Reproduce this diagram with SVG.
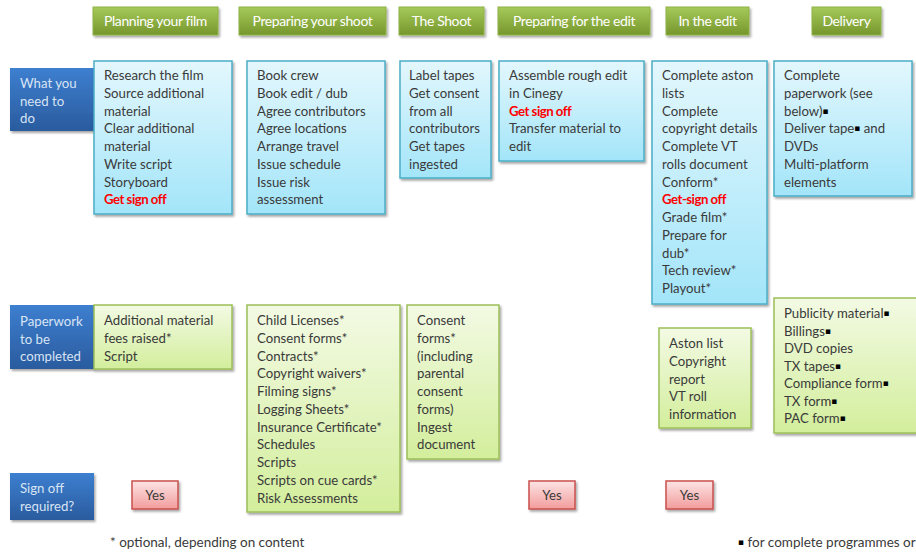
<svg xmlns="http://www.w3.org/2000/svg" width="916" height="552" viewBox="0 0 916 552">
  <defs>
    <linearGradient id="gHead" x1="0" y1="0" x2="0" y2="1">
      <stop offset="0" stop-color="#a6ca5a"/>
      <stop offset="1" stop-color="#76962c"/>
    </linearGradient>
    <linearGradient id="gTask" x1="0" y1="0" x2="0" y2="1">
      <stop offset="0" stop-color="#e3f7fd"/>
      <stop offset="1" stop-color="#a3e5f9"/>
    </linearGradient>
    <linearGradient id="gPaper" x1="0" y1="0" x2="0" y2="1">
      <stop offset="0" stop-color="#f3fae4"/>
      <stop offset="1" stop-color="#d3ee9c"/>
    </linearGradient>
    <linearGradient id="gYes" x1="0" y1="0" x2="0" y2="1">
      <stop offset="0" stop-color="#fce4e4"/>
      <stop offset="1" stop-color="#f29c9b"/>
    </linearGradient>
    <linearGradient id="gRow" x1="0" y1="0" x2="0" y2="1">
      <stop offset="0" stop-color="#3d7fd0"/>
      <stop offset="1" stop-color="#2a5b9e"/>
    </linearGradient>
    <filter id="shadow" x="-10%" y="-10%" width="130%" height="130%">
      <feDropShadow dx="1.5" dy="2" stdDeviation="1.2" flood-color="#000" flood-opacity="0.35"/>
    </filter>
  </defs>
  <style>
    text { font-family: Lato, "Open Sans", "Liberation Sans", sans-serif; }
    .head rect { fill: url(#gHead); stroke: #8fb247; stroke-width: 1; filter: url(#shadow); }
    .head text { fill: #ffffff; font-size: 14px; letter-spacing: -0.4px; text-anchor: middle; }
    .task rect { fill: url(#gTask); stroke: #4badc6; stroke-width: 1.5; filter: url(#shadow); }
    .paper rect { fill: url(#gPaper); stroke: #9cbf58; stroke-width: 1.5; filter: url(#shadow); }
    .yes rect { fill: url(#gYes); stroke: #c9504e; stroke-width: 1.5; filter: url(#shadow); }
    .yes text { fill: #3a3a3a; font-size: 13.2px; text-anchor: middle; }
    .row rect { fill: url(#gRow); filter: url(#shadow); }
    .row text { fill: #d8e4f4; font-size: 13.2px; }
    .body { fill: #3a3a3a; font-size: 13.2px; }
    .red { fill: #ff0000; font-weight: bold; letter-spacing: -0.5px; }
    .sq { fill: #000000; font-family: "DejaVu Sans", sans-serif; font-size: 9px; }
    .note { fill: #3a3a3a; font-size: 13.5px; }
  </style>

  <!-- stage headers -->
  <g id="head-planning" class="head"><rect x="93" y="7" width="125" height="28"/><text x="155.5" y="26">Planning your film</text></g>
  <g id="head-preparing-shoot" class="head"><rect x="239" y="7" width="147" height="28"/><text x="312.5" y="26">Preparing your shoot</text></g>
  <g id="head-shoot" class="head"><rect x="399" y="7" width="85" height="28"/><text x="441.5" y="26">The Shoot</text></g>
  <g id="head-preparing-edit" class="head"><rect x="498" y="7" width="152" height="28"/><text x="574" y="26">Preparing for the edit</text></g>
  <g id="head-edit" class="head"><rect x="666" y="7" width="83" height="28"/><text x="707.5" y="26">In the edit</text></g>
  <g id="head-delivery" class="head"><rect x="812" y="7" width="69" height="28"/><text x="846.5" y="26">Delivery</text></g>

  <!-- row labels -->
  <g id="row-todo" class="row">
    <rect x="10" y="68" width="84" height="63"/>
    <text x="20" y="88">What you</text><text x="20" y="105.5">need to</text><text x="20" y="123">do</text>
  </g>
  <g id="row-paperwork" class="row">
    <rect x="10" y="305" width="84" height="64"/>
    <text x="20" y="326">Paperwork</text><text x="20" y="343.5">to be</text><text x="20" y="361">completed</text>
  </g>
  <g id="row-signoff" class="row">
    <rect x="10" y="473" width="84" height="47"/>
    <text x="20" y="493">Sign off</text><text x="20" y="511">required?</text>
  </g>

  <!-- what you need to do -->
  <g id="todo-planning" class="task">
    <rect x="94" y="61" width="138" height="153"/>
    <text class="body" x="104" y="80">
      <tspan x="104">Research the film</tspan>
      <tspan x="104" dy="17.75">Source additional</tspan>
      <tspan x="104" dy="17.75">material</tspan>
      <tspan x="104" dy="17.75">Clear additional</tspan>
      <tspan x="104" dy="17.75">material</tspan>
      <tspan x="104" dy="17.75">Write script</tspan>
      <tspan x="104" dy="17.75">Storyboard</tspan>
      <tspan x="104" dy="17.75" class="red">Get sign off</tspan>
    </text>
  </g>
  <g id="todo-preparing-shoot" class="task">
    <rect x="247" y="61" width="138" height="153"/>
    <text class="body" x="257" y="80">
      <tspan x="257">Book crew</tspan>
      <tspan x="257" dy="17.75">Book edit / dub</tspan>
      <tspan x="257" dy="17.75">Agree contributors</tspan>
      <tspan x="257" dy="17.75">Agree locations</tspan>
      <tspan x="257" dy="17.75">Arrange travel</tspan>
      <tspan x="257" dy="17.75">Issue schedule</tspan>
      <tspan x="257" dy="17.75">Issue risk</tspan>
      <tspan x="257" dy="17.75">assessment</tspan>
    </text>
  </g>
  <g id="todo-shoot" class="task">
    <rect x="400" y="61" width="91" height="117"/>
    <text class="body" x="409" y="80">
      <tspan x="409">Label tapes</tspan>
      <tspan x="409" dy="17.75">Get consent</tspan>
      <tspan x="409" dy="17.75">from all</tspan>
      <tspan x="409" dy="17.75">contributors</tspan>
      <tspan x="409" dy="17.75">Get tapes</tspan>
      <tspan x="409" dy="17.75">ingested</tspan>
    </text>
  </g>
  <g id="todo-preparing-edit" class="task">
    <rect x="499" y="61" width="145" height="100"/>
    <text class="body" x="509" y="80">
      <tspan x="509">Assemble rough edit</tspan>
      <tspan x="509" dy="17.75">in Cinegy</tspan>
      <tspan x="509" dy="17.75" class="red">Get sign off</tspan>
      <tspan x="509" dy="17.75">Transfer material to</tspan>
      <tspan x="509" dy="17.75">edit</tspan>
    </text>
  </g>
  <g id="todo-edit" class="task">
    <rect x="652" y="61" width="115" height="243"/>
    <text class="body" x="662" y="80">
      <tspan x="662">Complete aston</tspan>
      <tspan x="662" dy="17.75">lists</tspan>
      <tspan x="662" dy="17.75">Complete</tspan>
      <tspan x="662" dy="17.75">copyright details</tspan>
      <tspan x="662" dy="17.75">Complete VT</tspan>
      <tspan x="662" dy="17.75">rolls document</tspan>
      <tspan x="662" dy="17.75">Conform*</tspan>
      <tspan x="662" dy="17.75" class="red">Get-sign off</tspan>
      <tspan x="662" dy="17.75">Grade film*</tspan>
      <tspan x="662" dy="17.75">Prepare for</tspan>
      <tspan x="662" dy="17.75">dub*</tspan>
      <tspan x="662" dy="17.75">Tech review*</tspan>
      <tspan x="662" dy="17.75">Playout*</tspan>
    </text>
  </g>
  <g id="todo-delivery" class="task">
    <rect x="774" y="61" width="138" height="135"/>
    <text class="body" x="784" y="80">
      <tspan x="784">Complete</tspan>
      <tspan x="784" dy="17.75">paperwork (see</tspan>
      <tspan x="784" dy="17.75">below)<tspan class="sq" dy="-2">▪</tspan></tspan>
      <tspan x="784" dy="19.75">Deliver tape<tspan class="sq" dy="-2">▪</tspan><tspan dy="2"> and</tspan></tspan>
      <tspan x="784" dy="17.75">DVDs</tspan>
      <tspan x="784" dy="17.75">Multi-platform</tspan>
      <tspan x="784" dy="17.75">elements</tspan>
    </text>
  </g>

  <!-- paperwork to be completed -->
  <g id="paper-planning" class="paper">
    <rect x="94" y="305" width="138" height="64"/>
    <text class="body" x="104" y="325">
      <tspan x="104">Additional material</tspan>
      <tspan x="104" dy="17.75">fees raised*</tspan>
      <tspan x="104" dy="17.75">Script</tspan>
    </text>
  </g>
  <g id="paper-preparing-shoot" class="paper">
    <rect x="247" y="305" width="153" height="207"/>
    <text class="body" x="257" y="325">
      <tspan x="257">Child Licenses*</tspan>
      <tspan x="257" dy="17.75">Consent forms*</tspan>
      <tspan x="257" dy="17.75">Contracts*</tspan>
      <tspan x="257" dy="17.75">Copyright waivers*</tspan>
      <tspan x="257" dy="17.75">Filming signs*</tspan>
      <tspan x="257" dy="17.75">Logging Sheets*</tspan>
      <tspan x="257" dy="17.75">Insurance Certificate*</tspan>
      <tspan x="257" dy="17.75">Schedules</tspan>
      <tspan x="257" dy="17.75">Scripts</tspan>
      <tspan x="257" dy="17.75">Scripts on cue cards*</tspan>
      <tspan x="257" dy="17.75">Risk Assessments</tspan>
    </text>
  </g>
  <g id="paper-shoot" class="paper">
    <rect x="407" y="305" width="92" height="154"/>
    <text class="body" x="417" y="325">
      <tspan x="417">Consent</tspan>
      <tspan x="417" dy="17.75">forms*</tspan>
      <tspan x="417" dy="17.75">(including</tspan>
      <tspan x="417" dy="17.75">parental</tspan>
      <tspan x="417" dy="17.75">consent</tspan>
      <tspan x="417" dy="17.75">forms)</tspan>
      <tspan x="417" dy="17.75">Ingest</tspan>
      <tspan x="417" dy="17.75">document</tspan>
    </text>
  </g>
  <g id="paper-edit" class="paper">
    <rect x="659" y="328" width="92" height="100"/>
    <text class="body" x="669" y="348">
      <tspan x="669">Aston list</tspan>
      <tspan x="669" dy="17.75">Copyright</tspan>
      <tspan x="669" dy="17.75">report</tspan>
      <tspan x="669" dy="17.75">VT roll</tspan>
      <tspan x="669" dy="17.75">information</tspan>
    </text>
  </g>
  <g id="paper-delivery" class="paper">
    <rect x="774" y="298" width="150" height="135"/>
    <text class="body" x="784" y="318">
      <tspan x="784">Publicity material<tspan class="sq" dy="-2">▪</tspan></tspan>
      <tspan x="784" dy="19.5">Billings<tspan class="sq" dy="-2">▪</tspan></tspan>
      <tspan x="784" dy="19.5">DVD copies</tspan>
      <tspan x="784" dy="17.5">TX tapes<tspan class="sq" dy="-2">▪</tspan></tspan>
      <tspan x="784" dy="19.5">Compliance form<tspan class="sq" dy="-2">▪</tspan></tspan>
      <tspan x="784" dy="19.5">TX form<tspan class="sq" dy="-2">▪</tspan></tspan>
      <tspan x="784" dy="19.5">PAC form<tspan class="sq" dy="-2">▪</tspan></tspan>
    </text>
  </g>

  <!-- sign off required -->
  <g id="yes-planning" class="yes"><rect x="132" y="481" width="46" height="28"/><text x="155" y="500">Yes</text></g>
  <g id="yes-preparing-edit" class="yes"><rect x="529" y="481" width="46" height="28"/><text x="552" y="500">Yes</text></g>
  <g id="yes-edit" class="yes"><rect x="666" y="481" width="47" height="28"/><text x="689.5" y="500">Yes</text></g>

  <!-- footnotes -->
  <g id="notes">
    <text class="note" x="110" y="547">* optional, depending on content</text>
    <text class="note" x="738" y="547"><tspan class="sq" dy="-2">▪</tspan><tspan dy="2"> for complete programmes or</tspan></text>
  </g>
</svg>
